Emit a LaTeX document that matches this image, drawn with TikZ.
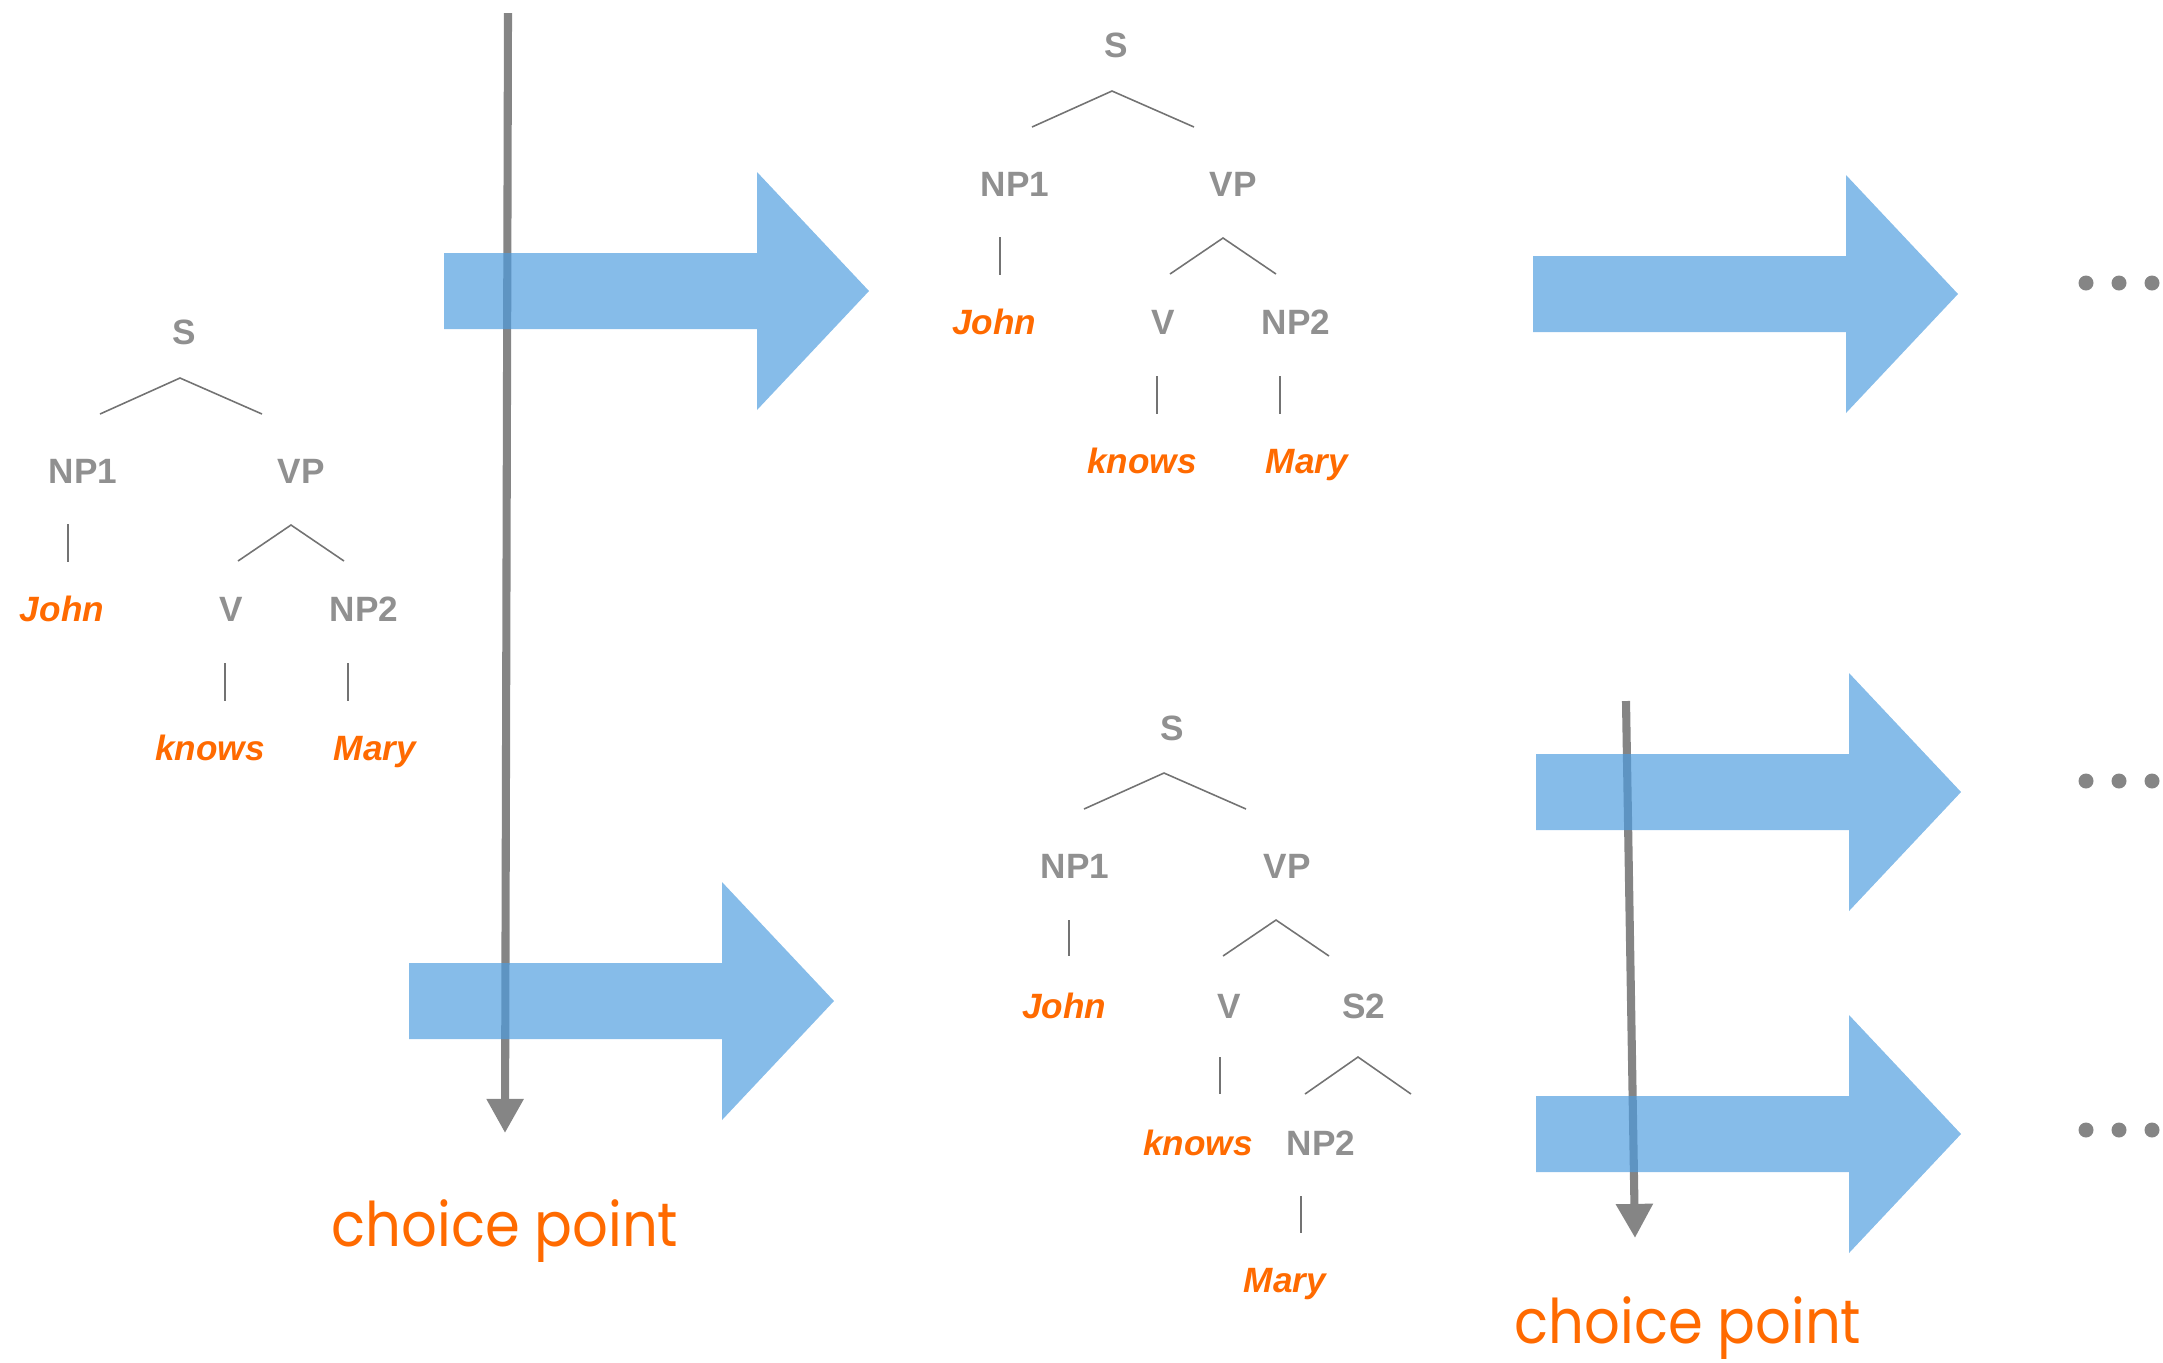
\documentclass[tikz,border=0pt]{standalone}
\usepackage{fontspec}
\usetikzlibrary{arrows.meta,calc}
\newfontfamily\treefont{Liberation Sans}
\newfontfamily\notefont[FakeStretch=0.91]{Poppins}
\definecolor{catgray}{HTML}{909090}
\definecolor{wordorange}{HTML}{FF6A00}
\definecolor{flowblue}{HTML}{4C9CDF}
\definecolor{markgray}{HTML}{858585}
\tikzset{
  cat/.style={anchor=base,inner sep=0pt,text=catgray,font=\treefont\fontsize{10}{12}\selectfont\bfseries},
  word/.style={cat,text=wordorange,font=\treefont\fontsize{10}{12}\selectfont\bfseries\itshape},
  branch/.style={draw=black!55,line width=0.45pt},
  flow/.style={fill=flowblue,fill opacity=0.68},
  marker/.style={draw=markgray,line width=2.3pt,-{Triangle[length=9.7pt,width=10pt]}},
  cplabel/.style={anchor=base,inner sep=0pt,text=wordorange,font=\notefont\fontsize{17.5}{20}\selectfont},
}
\begin{document}
\begin{tikzpicture}[x=0.01cm,y=-0.01cm]
\useasboundingbox (0,0) rectangle (2163,1362);
% the same parse twice: start and first expansion
\foreach \t/\dx/\dy in {a/0/0,b/932/-287} {
\node[cat] (\t-s) at ({184+\dx},{344+\dy}) {S};
\node[cat] (\t-np1) at ({83+\dx},{483+\dy}) {NP1};\node[cat] (\t-vp) at ({301+\dx},{483+\dy}) {VP};
\node[word] (\t-john) at ({62+\dx},{621+\dy}) {John};\node[cat] (\t-v) at ({231+\dx},{621+\dy}) {V};
\node[cat] (\t-np2) at ({364+\dx},{621+\dy}) {NP2};
\node[word] (\t-knows) at ({210+\dx},{760+\dy}) {knows};\node[word] (\t-mary) at ({375+\dx},{760+\dy}) {Mary};
\draw[branch] ($(\t-np1.base)+(17,-69)$) -- ($(\t-s.base)+(-4,34)$) -- ($(\t-vp.base)+(-39,-69)$);
\draw[branch] ($(\t-v.base)+(7,-60)$) -- ($(\t-vp.base)+(-10,42)$) -- ($(\t-np2.base)+(-20,-60)$);
\draw[branch] ($(\t-np1.base)+(-15,41)$) -- ($(\t-john.base)+(6,-59)$);
\draw[branch] ($(\t-v.base)+(-6,42)$) -- ($(\t-knows.base)+(15,-59)$);
\draw[branch] ($(\t-np2.base)+(-16,42)$) -- ($(\t-mary.base)+(-27,-59)$);}
% second expansion, with the embedded S2
\node[cat] (c-s) at (1172,740) {S};
\node[cat] (c-np1) at (1075,878) {NP1};\node[cat] (c-vp) at (1287,878) {VP};
\node[word] (c-john) at (1064,1018) {John};\node[cat] (c-v) at (1229,1018) {V};\node[cat] (c-s2) at (1364,1018) {S2};
\node[word] (c-knows) at (1198,1155) {knows};\node[cat] (c-np2) at (1321,1155) {NP2};
\node[word] (c-mary) at (1285,1292) {Mary};
\draw[branch] ($(c-np1.base)+(9,-69)$) -- ($(c-s.base)+(-8,33)$) -- ($(c-vp.base)+(-41,-69)$);
\draw[branch] ($(c-v.base)+(-6,-62)$) -- ($(c-vp.base)+(-11,42)$) -- ($(c-s2.base)+(-35,-62)$);
\draw[branch] ($(c-np2.base)+(-16,-61)$) -- ($(c-s2.base)+(-6,39)$) -- ++(53,37);
\draw[branch] ($(c-np1.base)+(-6,42)$) -- ($(c-john.base)+(5,-62)$);
\draw[branch] ($(c-v.base)+(-9,39)$) -- ($(c-knows.base)+(22,-61)$);
\draw[branch] ($(c-np2.base)+(-20,41)$) -- ($(c-mary.base)+(16,-59)$);
% choice points
\coordinate (m1top) at (508,13);\coordinate (m1end) at (505,1133);
\coordinate (m2top) at (1626,701);\coordinate (m2end) at (1635,1238);
\draw[marker] (m1top) -- (m1end);\draw[marker] (m2top) -- (m2end);
\node[cplabel] (cp1) at (505,1246) {choice point};
\node[cplabel] (cp2) at (1688,1343) {choice point};
% big block arrows
\foreach \x/\y in {444/291,409/1001,1533/294,1536/792,1536/1134}
\fill[flow] (\x,\y) ++(0,-38) -- ++(313,0) -- ++(0,-81) -- ++(112,119) -- ++(-112,119) -- ++(0,-81) -- ++(-313,0) -- cycle;
\foreach \y in {283,781,1130} {\foreach \x in {2086,2119,2152} {\fill[markgray] (\x,\y) circle[radius=7.5];}}
\end{tikzpicture}
\end{document}
